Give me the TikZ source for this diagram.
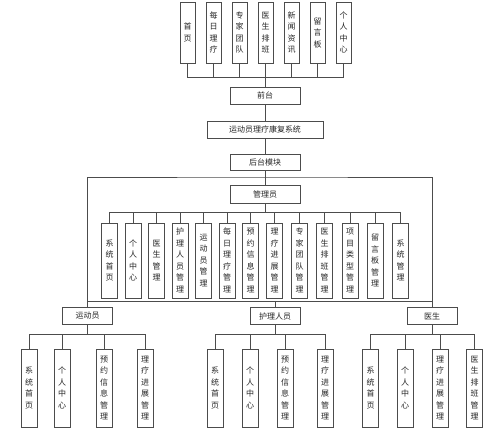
\documentclass[tikz,border=0pt]{standalone}
\usepackage{fontspec}
\newfontfamily\cjk{Noto Sans CJK SC}

\tikzset{
  box/.style={draw=black!70, line width=0.7pt, fill=white, inner sep=0pt,
    align=center, text=black!85, font=\cjk\fontsize{8}{11.5}\selectfont},
  hbox/.style={box, minimum width=70pt, minimum height=17pt},
  rolebox/.style={box, minimum width=50pt, minimum height=17pt},
  topbox/.style={box, minimum width=15pt, minimum height=61pt},
  adminbox/.style={box, minimum width=16pt, minimum height=75pt},
  subbox/.style={box, minimum width=16pt, minimum height=78pt},
  link/.style={draw=black!70, line width=0.7pt},
}

\begin{document}
\begin{tikzpicture}[x=1pt, y=-1pt]
  \useasboundingbox (0,0) rectangle (499,432);

  % --- front pages ---
  \node[topbox] (shouye) at (187.5,32.5) {首\\页};
  \node[topbox] (meiri) at (213.5,32.5) {每\\日\\理\\疗};
  \node[topbox] (zhuanjia) at (239.5,32.5) {专\\家\\团\\队};
  \node[topbox] (paiban) at (265.5,32.5) {医\\生\\排\\班};
  \node[topbox] (xinwen) at (291.5,32.5) {新\\闻\\资\\讯};
  \node[topbox] (liuyan) at (317.5,32.5) {留\\言\\板};
  \node[topbox] (geren) at (343.5,32.5) {个\\人\\中\\心};
  \coordinate (topbus) at (265,77);

  % --- main column ---
  \node[hbox] (qiantai) at (265,95.5) {前台};
  \node[hbox, minimum width=116pt] (xitong) at (265,129.5) {运动员理疗康复系统};
  \node[hbox, minimum height=16pt] (houtai) at (265,162) {后台模块};
  \node[hbox, minimum height=18pt] (guanli) at (265,194) {管理员};
  \coordinate (hbus) at (265,177);
  \coordinate (abus) at (265,212);
  \coordinate (mbus) at (265,301);

  % --- admin pages ---
  \node[adminbox] (a1) at (109.5,260.5) {系\\统\\首\\页};
  \node[adminbox] (a2) at (133,260.5) {个\\人\\中\\心};
  \node[adminbox] (a3) at (156.5,260.5) {医\\生\\管\\理};
  \node[adminbox] (a4) at (180,260.5) {护\\理\\人\\员\\管\\理};
  \node[adminbox] (a5) at (203.5,260.5) {运\\动\\员\\管\\理};
  \node[adminbox] (a6) at (227,260.5) {每\\日\\理\\疗\\管\\理};
  \node[adminbox] (a7) at (250.5,260.5) {预\\约\\信\\息\\管\\理};
  \node[adminbox] (a8) at (274.5,260.5) {理\\疗\\进\\展\\管\\理};
  \node[adminbox] (a9) at (299.5,260.5) {专\\家\\团\\队\\管\\理};
  \node[adminbox] (a10) at (324.5,260.5) {医\\生\\排\\班\\管\\理};
  \node[adminbox] (a11) at (350,260.5) {项\\目\\类\\型\\管\\理};
  \node[adminbox] (a12) at (375,260.5) {留\\言\\板\\管\\理};
  \node[adminbox] (a13) at (400.5,260.5) {系\\统\\管\\理};

  % --- roles ---
  \node[rolebox] (ydy) at (87.5,315.5) {运动员};
  \node[rolebox] (hlry) at (275,316) {护理人员};
  \node[rolebox] (ys) at (432,316) {医生};
  \coordinate (ybus) at (87.5,334);
  \coordinate (hbus2) at (275,334);
  \coordinate (ysbus) at (432,334);

  % --- 运动员 pages ---
  \node[subbox] (y1) at (29,388) {系\\统\\首\\页};
  \node[subbox] (y2) at (62,388) {个\\人\\中\\心};
  \node[subbox] (y3) at (104,388) {预\\约\\信\\息\\管\\理};
  \node[subbox] (y4) at (145,388) {理\\疗\\进\\展\\管\\理};

  % --- 护理人员 pages ---
  \node[subbox] (h1) at (215,388) {系\\统\\首\\页};
  \node[subbox] (h2) at (250,388) {个\\人\\中\\心};
  \node[subbox] (h3) at (285,388) {预\\约\\信\\息\\管\\理};
  \node[subbox] (h4) at (325,388) {理\\疗\\进\\展\\管\\理};

  % --- 医生 pages ---
  \node[subbox] (d1) at (370.5,388) {系\\统\\首\\页};
  \node[subbox] (d2) at (405,388) {个\\人\\中\\心};
  \node[subbox] (d3) at (440,388) {理\\疗\\进\\展\\管\\理};
  \node[subbox] (d4) at (474.5,388) {医\\生\\排\\班\\管\\理};

  % --- front links ---
  \foreach \n in {shouye,meiri,zhuanjia,paiban,xinwen,liuyan,geren}
    \draw[link] (\n.south) |- (topbus);
  \draw[link] (topbus) -- (qiantai.north);
  \draw[link] (qiantai.south) -- (xitong.north);
  \draw[link] (xitong.south) -- (houtai.north);
  \draw[link] (houtai.south) -- (guanli.north);

  % --- back-end bus ---
  \draw[link] (ydy.north) |- (hbus) -| (ys.north);
  \draw[link] (ydy.north |- mbus) -- (ys.north |- mbus);
  \draw[link] (hlry.north |- mbus) -- (hlry.north);

  % --- admin links ---
  \draw[link] (guanli.south) -- (abus);
  \foreach \n in {a1,a2,a3,a4,a5,a6,a7,a8,a9,a10,a11,a12,a13}
    \draw[link] (\n.north) |- (abus);

  % --- role links ---
  \draw[link] (ydy.south) -- (ybus);
  \foreach \n in {y1,y2,y3,y4}
    \draw[link] (\n.north) |- (ybus);
  \draw[link] (hlry.south) -- (hbus2);
  \foreach \n in {h1,h2,h3,h4}
    \draw[link] (\n.north) |- (hbus2);
  \draw[link] (ys.south) -- (ysbus);
  \foreach \n in {d1,d2,d3,d4}
    \draw[link] (\n.north) |- (ysbus);

\end{tikzpicture}
\end{document}
